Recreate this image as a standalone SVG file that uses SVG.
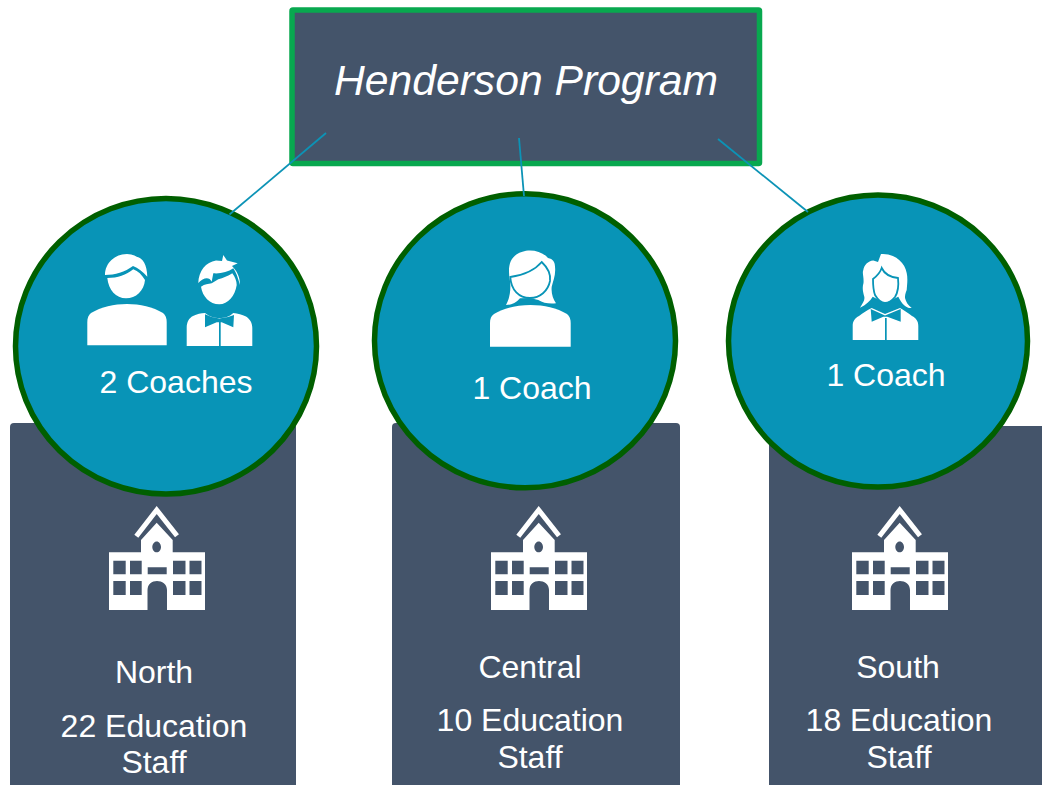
<svg xmlns="http://www.w3.org/2000/svg" width="1042" height="785" viewBox="0 0 1042 785">
<style>
text{font-family:"Liberation Sans",Arial,sans-serif;fill:#fff;font-size:32px;text-anchor:middle}
.site{fill:#44546a}
.disc{fill:#0894b7;stroke:#005f00;stroke-width:5.500}
.conn{stroke:#0c93b6;stroke-width:1.800;fill:none}
.w{fill:#fff}
.t{fill:#0894b7}
.f{fill:#fff;stroke:#0894b7;stroke-width:1.800}
</style>
<defs>
<g id="school">
<path class="w" fill-rule="evenodd" d="M109 552.300H141V540L156.700 522.700L172.700 540V552.300H205V610H167V590C167 584 162 581 157 581C152 581 147.500 584 147.500 590V610H109ZM113.300 560.700V574.300H125.700V560.700ZM130 560.700V574.300H141.700V560.700ZM173 560.700V574.300H185.500V560.700ZM189.500 560.700V574.300H201.500V560.700ZM113.300 581V595H125.700V581ZM130 581V595H141.700V581ZM173 581V595H185.500V581ZM189.500 581V595H201.500V581ZM147.700 567.300V574.300H166.700V567.300ZM156.700 541.500C154.300 541.500 152.300 544 152.300 547C152.300 550 154.300 552.300 156.700 552.300C159.100 552.300 161 550 161 547C161 544 159.100 541.500 156.700 541.500Z"/>
<path d="M136.300 536.300L156.700 510L177 535.800" fill="none" stroke="#fff" stroke-width="5"/>
</g>
</defs>
<g id="program">
<rect x="292" y="10" width="467.500" height="153.500" rx="1" fill="#44546a" stroke="#08a84f" stroke-width="5.500"/>
<text x="526" y="95" style="font-size:42.670px;font-style:italic">Henderson Program</text>
</g>
<g id="north-site">
<path class="site" d="M10 785V427Q10 423 14 423H292Q296 423 296 427V785Z"/>
<use href="#school"/>
<text x="154" y="683">North</text>
<text x="154" y="737">22 Education</text>
<text x="154" y="773">Staff</text>
</g>
<g id="central-site">
<path class="site" d="M392 785V427Q392 423 396 423H676Q680 423 680 427V785Z"/>
<use href="#school" x="382" y="0"/>
<text x="530" y="678">Central</text>
<text x="530" y="731">10 Education</text>
<text x="530" y="768">Staff</text>
</g>
<g id="south-site">
<path class="site" d="M769 785V426H1042V785Z"/>
<use href="#school" x="743" y="0"/>
<text x="898" y="678">South</text>
<text x="899" y="731">18 Education</text>
<text x="899" y="768">Staff</text>
</g>
<g id="north-coaches">
<ellipse class="disc" cx="166" cy="346.200" rx="150.500" ry="147.800"/>
<path class="w" d="M87.300 345.300V322C87.300 318 88.500 315 91 313C101 307 114 304 127 304C140 304 153 307 163 313C165.500 315 166.700 318 166.700 322V345.300Z"/>
<path class="w" d="M105 275C105 263 115 254 127 254C130 254 134 255 136.700 256.700C143 258 147 265 147.300 276.700C143 272 138 268 133 266C125 272 115 275 105 275Z"/>
<path class="w" d="M107.300 278C118 278 126 275 133.300 269.300C138 271 142 275 145 280C144 291 136 298.300 126 298.300C116 298.300 108.500 290 107.300 278Z"/>
<path class="w" d="M198.300 283C198.500 271 206 262 216 260.500L222 261L223.300 255L227 260.500L237.700 263.300L232 266C237 271 240 277 240 285C238 278 236 272 233.300 268.300C228 272 220 274 213.300 273.300L211.700 281.700C209 276 203 278 198.300 283Z"/>
<path class="w" d="M201 286.700C205 284 208 284 211.700 283.300L218.300 279.300C223 278 228 276 232.300 273.300C235 277 236.700 281 236.700 285C235 296 228 304.300 219.300 304.300C209.500 304.300 202.500 296.500 201 286.700Z"/>
<path class="w" d="M186.700 346V328C186.700 322 189 318 193 316C197 314 201 313 205 313C210 317 214 318 219.300 318C225 318 229 317 233.300 313C238 313.500 242 314.500 246 316.500C250 319 252.300 323 252.300 328V346H220.700V322H219V346Z"/>
<path class="t" d="M205 314.300Q212 318 219.300 318.500Q227 318 234 315L233.300 327.300L221.700 322.300H216.700L205 327.300Z"/>
<text x="176" y="393">2 Coaches</text>
</g>
<g id="central-coach">
<ellipse class="disc" cx="525" cy="340.800" rx="150.500" ry="147"/>
<path class="w" d="M490 346.700V323C490 319 491 316 494 314C504 308 517 305 530.500 305C544 305 557 308 567 314C569.500 316 570.700 319 570.700 323V346.700Z"/>
<path class="w" d="M506 305C510 298 511 289 510 281C507 265 510 254 526 250.700C534 249.500 543 252 548 258C553 259 555 262 555 266.700C556 275 553 281 551.700 286.700C551 293 553 299 556 303.300C549 304 543 303 538.300 300L530 298L520 298.300C516 303 511 305 506 305Z"/>
<path class="f" d="M510.300 277C524 275 535 270 541.700 262C547 267 551 274 550 281C548 291 540 298 530 298C519 298 511 290 510.300 277Z"/>
<text x="532" y="399">1 Coach</text>
</g>
<g id="south-coach">
<ellipse class="disc" cx="878" cy="341.100" rx="149.500" ry="146"/>
<path class="w" d="M852.700 340V326C852.700 321 855 318 859 316C863 313 867 310 871.700 308L885 314L900 308C904 310 908 313 912 316C916 318 918.300 321 918.300 326V340H886.700V318H885V340Z"/>
<path class="t" d="M870.700 309L885 315.500L900.700 309V321.700L887.300 316.700H883.300L871.700 321.700Z"/>
<path class="w" d="M860 307.700C863 303 865 300 864.300 296.700C863 292 862 288 863.500 283C864 277 862 273 863.300 270C864 265 868 261 873.300 260.500L878 262L881 254C894 253 905 262 906.700 273C908 279 907 285 906.700 290C905 294 905 296 905 298C906 302 908 305 911.700 308C906 308.500 902 304 898.300 296.700L885 303L872.700 296.700C870 301 866 305 860 307.700Z"/>
<path class="f" d="M873 279C877 276 880 273 881.700 268C884 273 889 277 898 278C899 287 897.500 293 895 297C892 300.500 888 303 885 303C882 303 878 300 875 295C873.500 291 873 285 873 279Z"/>
<text x="886" y="386">1 Coach</text>
</g>
<g id="connectors">
<path class="conn" d="M326 133L229.500 214.500"/>
<path class="conn" d="M519 138L524 196"/>
<path class="conn" d="M718 139L808 212"/>
</g>
</svg>
